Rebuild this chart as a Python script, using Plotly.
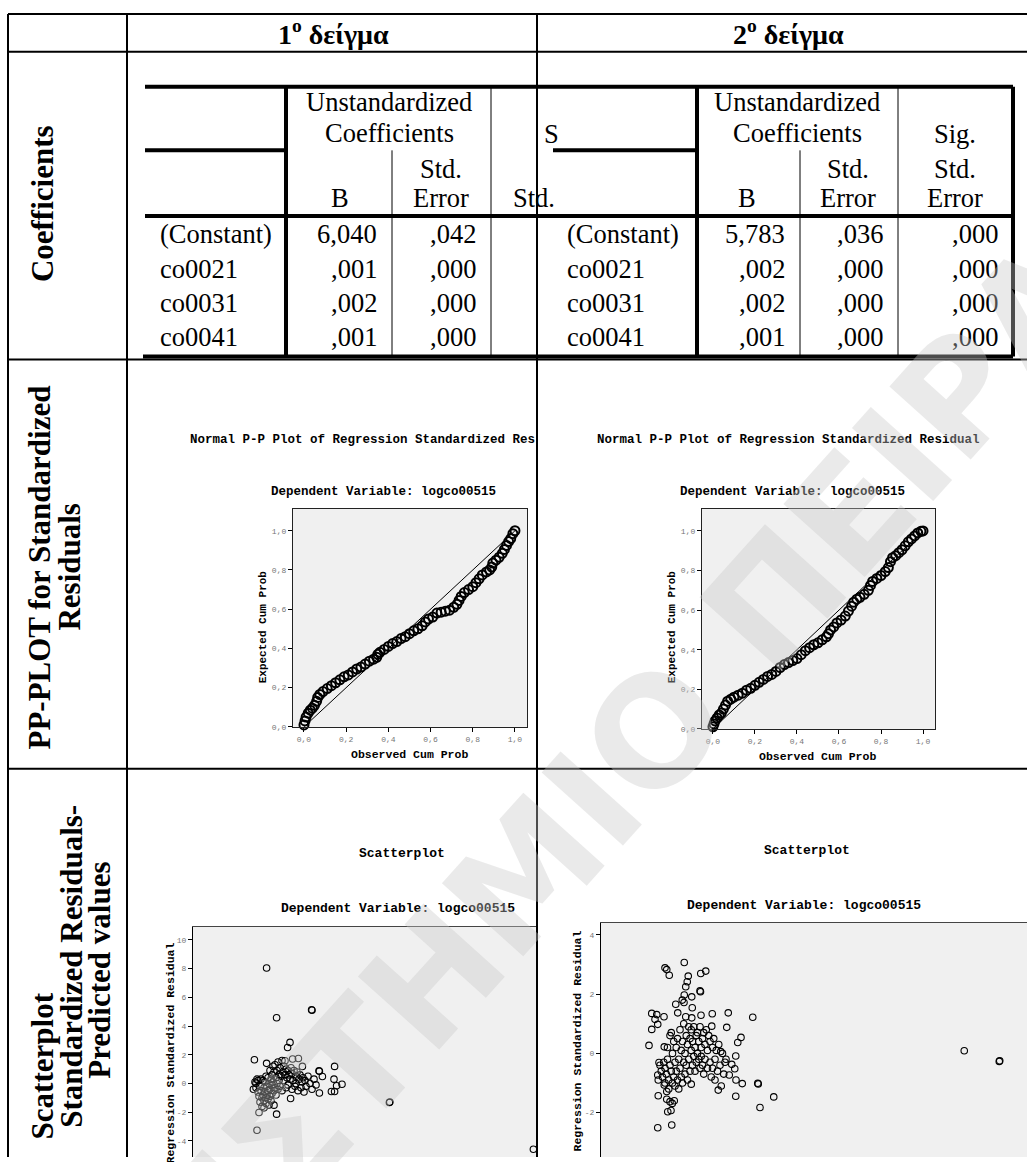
import plotly.graph_objects as go

W, H = 1027, 1162

# ---------------- data ----------------
ROW_LABELS = ["(Constant)", "co0021", "co0031", "co0041"]
B1 = ["6,040", ",001", ",002", ",001"]
SE1 = [",042", ",000", ",000", ",000"]
B2 = ["5,783", ",002", ",002", ",001"]
SE2 = [",036", ",000", ",000", ",000"]
SIG2 = [",000", ",000", ",000", ",000"]

PP_TICKS = [0.0, 0.2, 0.4, 0.6, 0.8, 1.0]
PP_TICKTEXT = ["0,0", "0,2", "0,4", "0,6", "0,8", "1,0"]
DIAG = [0.0, 1.0]

PP1_OBS = [0.00, 0.005, 0.01, 0.02, 0.03, 0.04, 0.05, 0.06, 0.065, 0.075, 0.09, 0.11, 0.13, 0.15, 0.17,
           0.19, 0.21, 0.23, 0.25, 0.27, 0.29, 0.31, 0.33, 0.345, 0.35, 0.36, 0.38, 0.40, 0.42, 0.44,
           0.46, 0.48, 0.50, 0.52, 0.54, 0.56, 0.575, 0.59, 0.61, 0.63, 0.65, 0.67, 0.69, 0.71, 0.725,
           0.735, 0.745, 0.76, 0.78, 0.80, 0.815, 0.83, 0.845, 0.865, 0.88, 0.89, 0.895, 0.91, 0.925,
           0.94, 0.95, 0.96, 0.97, 0.98, 0.99, 1.00]
PP1_EXP = [0.01, 0.03, 0.05, 0.07, 0.085, 0.095, 0.11, 0.13, 0.15, 0.165, 0.18, 0.195, 0.21, 0.225, 0.24,
           0.255, 0.265, 0.28, 0.295, 0.305, 0.32, 0.335, 0.345, 0.355, 0.37, 0.38, 0.395, 0.41, 0.425, 0.435,
           0.45, 0.46, 0.475, 0.49, 0.50, 0.515, 0.535, 0.55, 0.56, 0.58, 0.585, 0.59, 0.595, 0.61, 0.625,
           0.645, 0.665, 0.685, 0.70, 0.715, 0.735, 0.755, 0.775, 0.79, 0.80, 0.815, 0.835, 0.85, 0.865,
           0.885, 0.905, 0.925, 0.945, 0.96, 0.985, 1.00]

PP2_OBS = [0.0, 0.005, 0.01, 0.02, 0.03, 0.04, 0.05, 0.06, 0.07, 0.085, 0.10, 0.12, 0.14, 0.16, 0.18,
           0.20, 0.22, 0.24, 0.26, 0.28, 0.30, 0.32, 0.34, 0.36, 0.38, 0.40, 0.42, 0.44, 0.46, 0.48,
           0.50, 0.52, 0.54, 0.55, 0.56, 0.575, 0.59, 0.61, 0.63, 0.645, 0.66, 0.67, 0.685, 0.70, 0.72,
           0.74, 0.75, 0.76, 0.78, 0.80, 0.82, 0.835, 0.845, 0.855, 0.87, 0.885, 0.90, 0.915, 0.93,
           0.945, 0.96, 0.975, 0.99, 1.0]
PP2_EXP = [0.01, 0.025, 0.04, 0.055, 0.07, 0.08, 0.10, 0.12, 0.14, 0.15, 0.16, 0.17, 0.18, 0.195, 0.205,
           0.22, 0.235, 0.25, 0.265, 0.275, 0.29, 0.31, 0.325, 0.335, 0.345, 0.355, 0.375, 0.395, 0.41, 0.425,
           0.435, 0.45, 0.465, 0.48, 0.50, 0.515, 0.535, 0.55, 0.57, 0.595, 0.62, 0.64, 0.655, 0.665, 0.68,
           0.70, 0.725, 0.745, 0.76, 0.775, 0.795, 0.815, 0.845, 0.865, 0.875, 0.89, 0.905, 0.925, 0.945,
           0.96, 0.975, 0.99, 0.998, 1.0]

# scatterplot 1 (predicted, residual)
SC1_POINTS = [
    (-1.17, 8.05), (1.08, 5.14), (1.10, 5.10), (-0.67, 4.58), (0.0, 2.86), (-0.12, 2.51), (-1.78, 1.65),
    (-1.17, 1.40), (-0.25, 1.58), (0.13, 1.70), (0.42, 1.74), (0.62, 1.19), (1.45, 0.88), (1.47, 0.85),
    (2.23, 1.19), (1.62, 0.49), (2.20, 0.30), (2.60, -0.05), (2.33, -0.16), (2.23, -0.56), (2.07, -0.56),
    (1.47, -0.67), (-1.83, -0.40), (-1.70, 0.02), (-1.55, -2.02), (-0.67, -2.14), (-1.65, -3.26),
    (0.03, -1.05), (-0.80, -1.51), (4.97, -1.33), (4.99, -1.30), (12.17, -4.58),
    (-1.75, 0.1), (-1.7, -0.3), (-1.65, 0.3), (-1.6, -0.6), (-1.6, 0.2), (-1.55, -0.9), (-1.5, -0.2),
    (-1.5, -1.3), (-1.45, 0.3), (-1.45, -0.5), (-1.4, -1.0), (-1.4, -1.6), (-1.35, 0.2), (-1.35, -0.8),
    (-1.3, -0.3), (-1.3, -1.2), (-1.3, -1.7), (-1.25, 0.1), (-1.25, -0.6), (-1.2, -1.0), (-1.2, 0.5),
    (-1.2, -1.4), (-1.15, -0.2), (-1.15, -0.8), (-1.1, 0.4), (-1.1, -1.1), (-1.1, -0.5), (-1.05, 0.0),
    (-1.05, -1.5), (-1.0, 0.9), (-1.0, -0.4), (-1.0, -0.9), (-0.95, 0.3), (-0.95, -1.2), (-0.9, 0.6),
    (-0.9, -0.7), (-0.9, -0.1), (-0.85, 1.2), (-0.85, 0.1), (-0.8, -0.5), (-0.8, 0.8), (-0.75, 1.3),
    (-0.75, -0.3), (-0.7, 0.4), (-0.7, -0.8), (-0.65, 0.9), (-0.65, 0.0), (-0.6, 1.5), (-0.6, -0.4),
    (-0.55, 0.6), (-0.55, 0.2), (-0.5, 1.1), (-0.5, -0.2), (-0.45, 0.5), (-0.4, 1.6), (-0.4, -0.5),
    (-0.35, 0.8), (-0.3, 0.2), (-0.3, 1.2), (-0.25, 0.6), (-0.2, 1.0), (-0.2, -0.3), (-0.15, 0.4),
    (-0.1, 0.9), (-0.1, -0.1), (-0.05, 0.6), (0.0, 0.3), (0.05, 1.1), (0.1, -0.4), (0.1, 0.7),
    (0.15, 0.2), (0.2, 0.9), (0.25, -0.2), (0.3, 0.5), (0.3, 0.0), (0.35, 0.8), (0.4, -0.5),
    (0.45, 0.3), (0.5, 0.6), (0.55, -0.3), (0.6, 0.1), (0.65, 0.4), (0.7, -0.6), (0.75, 0.2),
    (0.8, -0.2), (0.9, 0.5), (1.0, 0.0), (1.1, -0.4), (1.2, 0.3), (1.3, -0.1),
]

# scatterplot 2 (predicted, residual)
SC2_POINTS = [
    (-0.63, 3.07), (-1.40, 2.89), (-1.33, 2.83), (-1.23, 2.64), (0.23, 2.78), (0.03, 2.70), (-0.47, 2.61),
    (-0.51, 2.42), (-0.57, 2.25), (0.0, 2.11), (0.02, 2.08), (-0.63, 1.97), (-0.33, 1.91), (-0.71, 1.80),
    (-0.64, 1.72), (-0.97, 1.66), (-0.31, 1.54), (-0.89, 1.37), (-1.93, 1.35), (-1.73, 1.31), (1.13, 1.37),
    (0.49, 1.34), (0.04, 1.29), (-1.44, 1.24), (2.11, 1.22), (-0.57, 1.24), (-1.80, 1.15), (-0.33, 1.20),
    (-1.69, 0.98), (-1.93, 0.81), (1.07, 0.88), (0.47, 0.92), (1.64, 0.54), (1.51, 0.37), (-2.04, 0.27),
    (-1.43, 0.22), (0.83, 0.06), (1.43, -0.09), (10.57, 0.09), (11.97, -0.27), (11.99, -0.25),
    (-1.64, -0.31), (1.04, -0.20), (1.27, -0.37), (1.39, -0.52), (1.17, -0.73), (1.44, -0.90),
    (1.69, -1.02), (2.31, -1.01), (2.33, -1.03), (-0.35, -1.04), (-1.69, -0.73), (-1.67, -0.90),
    (-1.43, -1.07), (0.73, -1.24), (-1.67, -1.43), (1.43, -1.45), (2.95, -1.47), (2.40, -1.83),
    (-1.33, -1.29), (-1.33, -1.55), (-1.20, -1.63), (-1.11, -1.69), (-1.03, -1.60), (-1.29, -1.97),
    (-1.16, -1.93), (-1.69, -2.51), (-1.13, -2.42),
    (-1.6, -0.4), (-1.55, -0.6), (-1.5, -0.8), (-1.45, -0.3), (-1.4, -0.5), (-1.4, -1.0), (-1.35, -0.7),
    (-1.3, 0.2), (-1.3, -0.2), (-1.25, -0.9), (-1.25, -1.2), (-1.2, 0.6), (-1.2, -0.4), (-1.15, 0.7),
    (-1.15, -0.6), (-1.1, 0.0), (-1.1, -1.0), (-1.05, 0.4), (-1.05, -0.8), (-1.0, -0.3), (-1.0, -1.1),
    (-0.95, 0.2), (-0.95, -0.6), (-0.9, 0.5), (-0.9, -0.9), (-0.85, -0.2), (-0.85, -1.2), (-0.8, 0.8),
    (-0.8, -0.5), (-0.75, 0.1), (-0.75, -0.8), (-0.7, 0.4), (-0.7, -1.0), (-0.65, -0.3), (-0.65, 1.0),
    (-0.6, 0.0), (-0.6, -0.7), (-0.55, 0.6), (-0.55, -0.4), (-0.5, 0.3), (-0.5, -0.9), (-0.45, 0.9),
    (-0.45, -0.2), (-0.4, 0.5), (-0.4, -0.6), (-0.35, 0.1), (-0.35, 0.8), (-0.3, -0.4), (-0.3, 0.4),
    (-0.25, -0.1), (-0.25, 0.9), (-0.2, 0.2), (-0.2, -0.6), (-0.15, 0.6), (-0.15, -0.3), (-0.1, 0.0),
    (-0.1, 0.7), (-0.05, -0.2), (-0.05, 0.4), (0.0, -0.5), (0.0, 0.9), (0.05, 0.2), (0.05, -0.1),
    (0.1, 0.5), (0.1, -0.4), (0.15, 0.7), (0.15, -0.7), (0.2, 0.3), (0.2, -0.2), (0.25, 0.8),
    (0.3, -0.5), (0.3, 0.1), (0.35, 0.6), (0.4, -0.3), (0.4, 0.4), (0.45, -0.8), (0.5, 0.2),
    (0.5, -0.5), (0.55, 0.5), (0.6, -0.2), (0.6, -0.9), (0.65, 0.1), (0.7, -0.6), (0.75, 0.3),
    (0.8, -0.4), (0.85, -1.1), (0.9, 0.0), (0.95, -0.7), (1.0, -0.3),
]

SC1_YTICKS = [-4, -2, 0, 2, 4, 6, 8, 10]
SC1_YTEXT = ["-4", "-2", "0", "2", "4", "6", "8", "10"]
SC2_YTICKS = [-2, 0, 2, 4]
SC2_YTEXT = ["-2", "0", "2", "4"]

# ---------------- helpers ----------------
def fx(p):
    return p / W


def fy(p):
    return 1 - p / H


SERIF = "Liberation Serif, Times New Roman, serif"
MONO = "Liberation Mono, Courier New, monospace"

shapes = []


def hline(y, x0, x1, w, color="black"):
    shapes.append(dict(type="line", xref="paper", yref="paper", x0=fx(x0), x1=fx(x1),
                       y0=fy(y), y1=fy(y), line=dict(color=color, width=w), layer="above"))


def vline(x, y0, y1, w, color="black"):
    shapes.append(dict(type="line", xref="paper", yref="paper", x0=fx(x), x1=fx(x),
                       y0=fy(y0), y1=fy(y1), line=dict(color=color, width=w), layer="above"))


annotations = []


def text(t, x, y, size, family=SERIF, xanchor="center", yanchor="middle", angle=0, color="black"):
    annotations.append(dict(text=t, x=fx(x), y=fy(y), xref="paper", yref="paper", showarrow=False,
                            xanchor=xanchor, yanchor=yanchor, textangle=angle,
                            font=dict(family=family, size=size, color=color)))


# ---------------- outer grid ----------------
for yy in [14, 52, 361, 772]:
    hline(yy, 8, 1027, 2)
for xx in [8, 127, 537]:
    vline(xx, 14, 1162, 2)

# ---------------- inner SPSS tables ----------------
hline(87, 145, 1013, 4)
hline(151, 145, 286, 4)
hline(151, 553, 697, 4)
hline(217, 145, 1013, 4)
hline(358, 143, 1013, 4)
vline(286, 87, 358, 4)
vline(392, 151, 358, 1)
vline(491, 87, 358, 1)
vline(697, 87, 358, 4)
vline(800, 151, 358, 1)
vline(898, 87, 358, 1)
vline(1013, 87, 358, 4)

# headers of the outer table
text("<b>1<sup>o</sup> δείγμα</b>", 333, 33, 28)
text("<b>2<sup>o</sup> δείγμα</b>", 788, 33, 28)

# left labels
text("<b>Coefficients</b>", 42, 205, 31, angle=-90)
text("<b>PP-PLOT for Standardized</b>", 40, 570, 31, angle=-90)
text("<b>Residuals</b>", 70, 570, 31, angle=-90)
text("<b>Scatterplot</b>", 42, 1071, 31, angle=-90)
text("<b>Standardized Residuals-</b>", 72, 971, 31, angle=-90)
text("<b>Predicted values</b>", 100, 975, 31, angle=-90)

TS = 26.5
ROW_Y = [235, 270, 304, 338]
# table 1
text("Unstandardized", 389, 102, TS)
text("Coefficients", 389, 134, TS)
text("Std.", 441, 170, TS)
text("B", 340, 199, TS)
text("Error", 441, 199, TS)
text("Std.", 511, 199, TS, xanchor="left")
text("S", 542, 135, TS, xanchor="left")
for i, yy in enumerate(ROW_Y):
    text(ROW_LABELS[i], 158, yy, TS, xanchor="left")
    text(B1[i], 379, yy, TS, xanchor="right")
    text(SE1[i], 478, yy, TS, xanchor="right")
# table 2
text("Unstandardized", 797, 102, TS)
text("Coefficients", 797, 134, TS)
text("Std.", 848, 170, TS)
text("B", 747, 199, TS)
text("Error", 848, 199, TS)
text("Sig.", 955, 135, TS)
text("Std.", 955, 170, TS)
text("Error", 955, 199, TS)
for i, yy in enumerate(ROW_Y):
    text(ROW_LABELS[i], 565, yy, TS, xanchor="left")
    text(B2[i], 787, yy, TS, xanchor="right")
    text(SE2[i], 885, yy, TS, xanchor="right")
    text(SIG2[i], 1000, yy, TS, xanchor="right")

# PP plot texts
text("<b>Normal P-P Plot of Regression Standardized Res</b>", 188, 442, 12.5, family=MONO, xanchor="left")
text("<b>Normal P-P Plot of Regression Standardized Residual</b>", 788, 442, 12.5, family=MONO)
text("<b>Dependent Variable: logco00515</b>", 383, 494, 12.5, family=MONO)
text("<b>Dependent Variable: logco00515</b>", 792, 494, 12.5, family=MONO)
text("<b>Expected Cum Prob</b>", 263, 630, 11, family=MONO, angle=-90)
text("<b>Expected Cum Prob</b>", 672, 630, 11, family=MONO, angle=-90)
text("<b>Observed Cum Prob</b>", 409, 758, 11.5, family=MONO)
text("<b>Observed Cum Prob</b>", 817, 760, 11.5, family=MONO)

# scatter texts
text("<b>Scatterplot</b>", 402, 857, 13, family=MONO)
text("<b>Scatterplot</b>", 807, 854, 13, family=MONO)
text("<b>Dependent Variable: logco00515</b>", 398, 912, 13, family=MONO)
text("<b>Dependent Variable: logco00515</b>", 804, 909, 13, family=MONO)
text("<b>Regression Standardized Residual</b>", 170, 1058, 11.5, family=MONO, angle=-90)
text("<b>Regression Standardized Residual</b>", 577, 1046, 11.5, family=MONO, angle=-90)

# watermark (light, semi-transparent, diagonal)
annotations.append(dict(text="<b>ΠΑΝΕΠΙΣΤΗΜΙΟ ΠΕΙΡΑΙΑ</b>", x=fx(504), y=fy(904), xref="paper", yref="paper",
                        showarrow=False, xanchor="center", yanchor="middle", textangle=-48,
                        font=dict(family="DejaVu Sans", size=150, color="rgba(200,200,200,0.38)")))

# ---------------- traces ----------------
fig = go.Figure()
pp_marker = dict(symbol="circle-open", size=9, color="black", line=dict(width=2, color="black"))
sc_marker = dict(symbol="circle-open", size=6.5, color="black", line=dict(width=1.1, color="black"))

fig.add_trace(go.Scatter(x=DIAG, y=DIAG, mode="lines", line=dict(color="black", width=1),
                         xaxis="x", yaxis="y", showlegend=False))
fig.add_trace(go.Scatter(x=PP1_OBS, y=PP1_EXP, mode="markers", marker=pp_marker,
                         xaxis="x", yaxis="y", showlegend=False, cliponaxis=False))
fig.add_trace(go.Scatter(x=DIAG, y=DIAG, mode="lines", line=dict(color="black", width=1),
                         xaxis="x2", yaxis="y2", showlegend=False))
fig.add_trace(go.Scatter(x=PP2_OBS, y=PP2_EXP, mode="markers", marker=pp_marker,
                         xaxis="x2", yaxis="y2", showlegend=False, cliponaxis=False))
fig.add_trace(go.Scatter(x=[p[0] for p in SC1_POINTS], y=[p[1] for p in SC1_POINTS], mode="markers",
                         marker=sc_marker, xaxis="x3", yaxis="y3", showlegend=False))
fig.add_trace(go.Scatter(x=[p[0] for p in SC2_POINTS], y=[p[1] for p in SC2_POINTS], mode="markers",
                         marker=sc_marker, xaxis="x4", yaxis="y4", showlegend=False))

tickfont = dict(family=MONO, size=8, color="#777")
pp_axis = dict(showline=True, mirror=True, linecolor="#222", linewidth=1.3, ticks="outside", ticklen=4,
               tickcolor="black", tickwidth=1.2, showgrid=False, zeroline=False, tickfont=tickfont,
               tickvals=PP_TICKS, ticktext=PP_TICKTEXT)

fig.update_layout(
    width=W, height=H, margin=dict(l=0, r=0, t=0, b=0),
    paper_bgcolor="white", plot_bgcolor="#f0f0f0",
    xaxis=dict(domain=[fx(293), fx(527)], anchor="y", range=[-0.052, 1.057], **pp_axis),
    yaxis=dict(domain=[fy(730), fy(511)], anchor="x", range=[0, 1.112], **pp_axis),
    xaxis2=dict(domain=[fx(702), fx(935)], anchor="y2", range=[-0.052, 1.057], **pp_axis),
    yaxis2=dict(domain=[fy(732), fy(511)], anchor="x2", range=[0, 1.112], **pp_axis),
    xaxis3=dict(domain=[fx(193), fx(537)], anchor="y3", range=[-4.85, 12.35], side="top",
                showline=True, linecolor="#444", linewidth=1.2, showticklabels=False, ticks="",
                showgrid=False, zeroline=False),
    yaxis3=dict(domain=[0, fy(931)], anchor="x3", range=[-5.125, 10.905], showline=True,
                linecolor="black", linewidth=1.3, ticks="outside", ticklen=4, tickcolor="black",
                showgrid=False, zeroline=False, tickfont=tickfont,
                tickvals=SC1_YTICKS, ticktext=SC1_YTEXT),
    xaxis4=dict(domain=[fx(601), 1], anchor="y4", range=[-3.96, 13.08], side="top",
                showline=True, linecolor="#444", linewidth=1.2, showticklabels=False, ticks="",
                showgrid=False, zeroline=False),
    yaxis4=dict(domain=[0, fy(927)], anchor="x4", range=[-3.50, 4.404], showline=True,
                linecolor="black", linewidth=1.3, ticks="outside", ticklen=4, tickcolor="black",
                showgrid=False, zeroline=False, tickfont=tickfont,
                tickvals=SC2_YTICKS, ticktext=SC2_YTEXT),
    shapes=shapes,
    annotations=annotations,
)

fig.write_html("out.html")
